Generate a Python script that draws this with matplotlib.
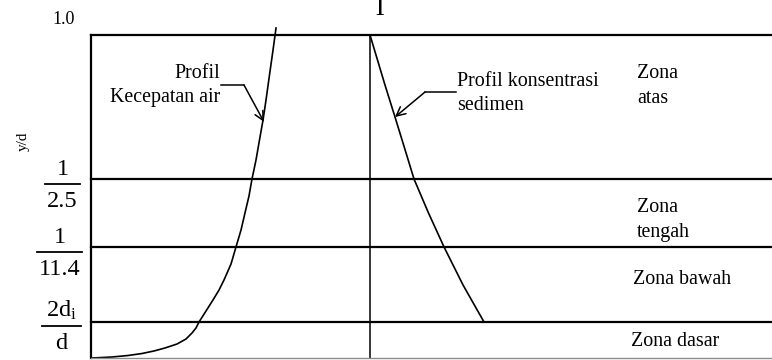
import matplotlib
matplotlib.use("Agg")
import matplotlib.pyplot as plt
from matplotlib.lines import Line2D

plt.rcParams['font.family'] = ['Liberation Serif', 'DejaVu Serif']
plt.rcParams['mathtext.fontset'] = 'custom'
plt.rcParams['mathtext.rm'] = 'Liberation Serif'
plt.rcParams['mathtext.it'] = 'Liberation Serif:italic'

# ---- data (x: horizontal fraction of panel, y: y/d schematic) ----
vel_x = [0.0015, 0.0308, 0.0543, 0.0749, 0.0925, 0.1087, 0.1263, 0.1395,
         0.1483, 0.1542, 0.1586, 0.1689, 0.1791, 0.1880, 0.1953, 0.2056,
         0.2129, 0.2203, 0.2261, 0.2320, 0.2364, 0.2423, 0.2474, 0.2526,
         0.2570, 0.2621, 0.2673, 0.2717]
vel_y = [0.0, 0.0031, 0.0077, 0.0139, 0.0217, 0.0310, 0.0433, 0.0588,
         0.0774, 0.0929, 0.1115, 0.1455, 0.1796, 0.2105, 0.2415, 0.2910,
         0.3437, 0.3963, 0.4489, 0.5015, 0.5542, 0.6130, 0.6749, 0.7368,
         0.7988, 0.8762, 0.9536, 1.0217]
sed_x = [0.4097, 0.4207, 0.4317, 0.4464, 0.4604, 0.4743, 0.4956, 0.5184,
         0.5463, 0.5771]
sed_y = [1.0, 0.9226, 0.8452, 0.7461, 0.6502, 0.5542, 0.4489, 0.3437,
         0.2260, 0.1115]
zone_bounds = [0.1115, 0.3437, 0.5542, 1.0]
sed_axis_x = 0.4097
frac_num = ["1", "1", "2d$_{\\mathrm{i}}$"]
frac_den = ["2.5", "11.4", "d"]
top_label = "1.0"
ylabel = "y/d"
zone_labels = [["Zona", "atas"], ["Zona", "tengah"], ["Zona bawah"], ["Zona dasar"]]
vel_label = ["Profil", "Kecepatan air"]
sed_label = ["Profil konsentrasi", "sedimen"]

W, H = 772, 360
fig = plt.figure(figsize=(W / 100, H / 100), dpi=100)

def fx(px):
    return px / W

def fy(py):
    return 1 - py / H

ax = fig.add_axes([fx(91), fy(358), fx(772) - fx(91), fy(35) - fy(358)])
ax.set_xlim(0, 1)
ax.set_ylim(0, 1)
ax.set_xticks([])
ax.set_yticks([])
for s in ['top', 'right']:
    ax.spines[s].set_visible(False)
ax.spines['left'].set_linewidth(1.6)
ax.spines['bottom'].set_color('#8c8c8c')
ax.spines['bottom'].set_linewidth(1.0)

# zone boundaries
for yb in zone_bounds:
    ax.axhline(yb, color='black', lw=1.6, clip_on=False)
ax.plot([sed_axis_x, sed_axis_x], [0, 1], color='black', lw=1.1)

# curves
ax.plot(vel_x, vel_y, color='black', lw=1.2, clip_on=False,
        solid_joinstyle='round')
ax.plot(sed_x, sed_y, color='black', lw=1.2, solid_joinstyle='round')

# annotation leaders
ax.plot([0.191, 0.2247], [0.845, 0.845], color='black', lw=1.1)
ax.annotate("", xy=(0.2540, 0.731), xytext=(0.2247, 0.845),
            arrowprops=dict(arrowstyle='->', color='black', lw=1.1,
                            shrinkA=0, shrinkB=0, mutation_scale=16))
ax.plot([0.536, 0.4905], [0.8235, 0.8235], color='black', lw=1.1)
ax.annotate("", xy=(0.4464, 0.746), xytext=(0.4905, 0.8235),
            arrowprops=dict(arrowstyle='->', color='black', lw=1.1,
                            shrinkA=0, shrinkB=0, mutation_scale=16))

FS = 14.4
# curve labels
fig.text(fx(220), fy(78), vel_label[0], ha='right', va='baseline', fontsize=FS)
fig.text(fx(220), fy(102), vel_label[1], ha='right', va='baseline', fontsize=FS)
fig.text(fx(457), fy(86), sed_label[0], ha='left', va='baseline', fontsize=FS)
fig.text(fx(457), fy(110), sed_label[1], ha='left', va='baseline', fontsize=FS)

# zone labels
zone_pos = [(637, [78, 103]), (637, [212, 237]), (633, [284]), (631, [346])]
for lines, (zx, ys) in zip(zone_labels, zone_pos):
    for t, yy in zip(lines, ys):
        fig.text(fx(zx), fy(yy), t, ha='left', va='baseline', fontsize=FS)

# left axis labels
fig.text(fx(64), fy(19), top_label, ha='center', va='center', fontsize=13)
fig.text(fx(23), fy(141), ylabel, ha='center', va='center', fontsize=11,
         rotation=90)

frac_bar_y = [184, 252, 326]
frac_bar_x = [(45, 80), (37, 82), (42, 81)]
for num, den, by, (x0, x1) in zip(frac_num, frac_den, frac_bar_y, frac_bar_x):
    xc = (x0 + x1) / 2
    fig.add_artist(Line2D([fx(x0), fx(x1)], [fy(by), fy(by)], color='black',
                          lw=1.3, transform=fig.transFigure))
    fig.text(fx(xc), fy(by - 4), num, ha='center', va='bottom', fontsize=17.5)
    fig.text(fx(xc), fy(by + 7), den, ha='center', va='top', fontsize=17.5)

# truncated title glyph at very top
fig.text(fx(380), fy(15), "l", ha='center', va='baseline', fontsize=22)

fig.savefig("out.png", dpi=100)
